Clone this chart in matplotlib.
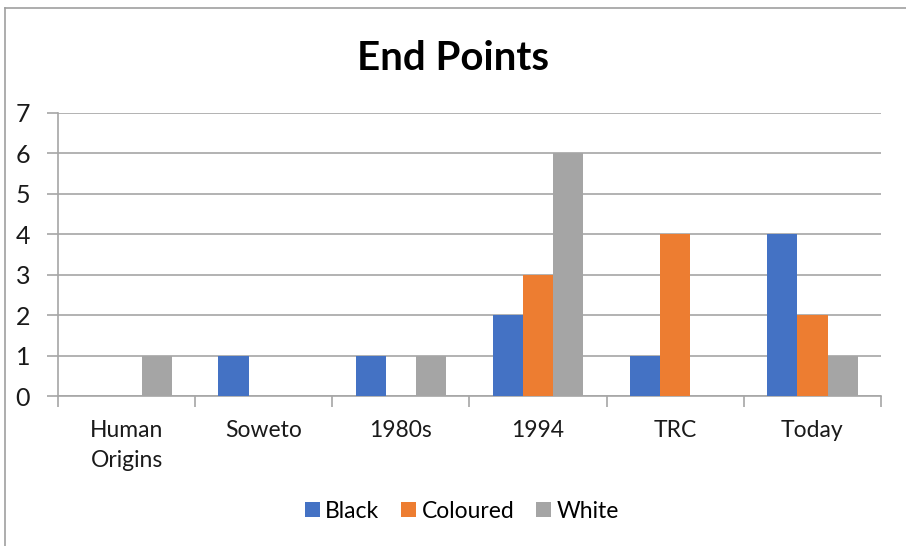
import matplotlib
matplotlib.use("Agg")
import matplotlib.pyplot as plt
from matplotlib.lines import Line2D
import numpy as np

categories = ["Human\nOrigins", "Soweto", "1980s", "1994", "TRC", "Today"]
series_names = ["Black", "Coloured", "White"]
black = [0, 1, 1, 2, 1, 4]
coloured = [0, 0, 0, 3, 4, 2]
white = [1, 0, 1, 6, 0, 1]
y_ticks = [0, 1, 2, 3, 4, 5, 6, 7]

colors = ["#4472C4", "#ED7D31", "#A5A5A5"]
grid_color = "#A6A6A6"

plt.rcParams["font.family"] = ["Lato", "DejaVu Sans"]

fig = plt.figure(figsize=(9.06, 5.46), dpi=100)
fig.patch.set_facecolor("white")

W, H = 906, 546
left, right, top, bottom = 58, 881, 113, 396
ax = fig.add_axes([left / W, 1 - bottom / H, (right - left) / W, (bottom - top) / H])

x = np.arange(len(categories))
bw = 0.22
for i, (vals, name, col) in enumerate(zip([black, coloured, white], series_names, colors)):
    ax.bar(x + (i - 1) * bw, vals, width=bw, color=col, label=name, zorder=3)

ax.set_xlim(-0.5, len(categories) - 0.5)
ax.set_ylim(0, 7)
ax.set_yticks(y_ticks)
ax.set_yticklabels([str(v) for v in y_ticks], fontsize=18, color="#1a1a1a")
ax.yaxis.grid(True, color=grid_color, linewidth=1.2, zorder=0)
ax.tick_params(axis="y", length=8, width=1.2, color=grid_color, pad=12)

# category labels sit between boundary ticks
ax.set_xticks(np.arange(len(categories) + 1) - 0.5)
ax.set_xticklabels([])
ax.set_xticks(x, minor=True)
ax.set_xticklabels(categories, minor=True, fontsize=16.5, color="#1a1a1a",
                   linespacing=1.55)
ax.tick_params(axis="x", which="major", length=8, width=1.2, color=grid_color,
               direction="out")
ax.tick_params(axis="x", which="minor", length=0, pad=17)
for lbl in ax.get_xticklabels(minor=True):
    lbl.set_verticalalignment("top")

for side in ["top", "right"]:
    ax.spines[side].set_visible(False)
for side in ["left", "bottom"]:
    ax.spines[side].set_color(grid_color)
    ax.spines[side].set_linewidth(1.2)
ax.set_facecolor("white")

fig.text(0.5, 1 - 58 / H, "End Points", ha="center", va="center",
         fontsize=29, fontweight="bold", color="black")

handles, labels = ax.get_legend_handles_labels()
fig.legend(handles, labels, loc="center", bbox_to_anchor=(462 / W, 1 - 511 / H),
           ncol=3, frameon=False, fontsize=16.5, handlelength=0.65,
           handleheight=0.65, handletextpad=0.25, columnspacing=0.95)

# chart area border (top and left edges)
fig.add_artist(Line2D([5 / W, 1], [1 - 8 / H, 1 - 8 / H], color="#A0A0A0",
                      linewidth=1.2, transform=fig.transFigure))
fig.add_artist(Line2D([5 / W, 5 / W], [0, 1 - 8 / H], color="#A0A0A0",
                      linewidth=1.2, transform=fig.transFigure))

fig.savefig("out.png", dpi=100, facecolor="white")
